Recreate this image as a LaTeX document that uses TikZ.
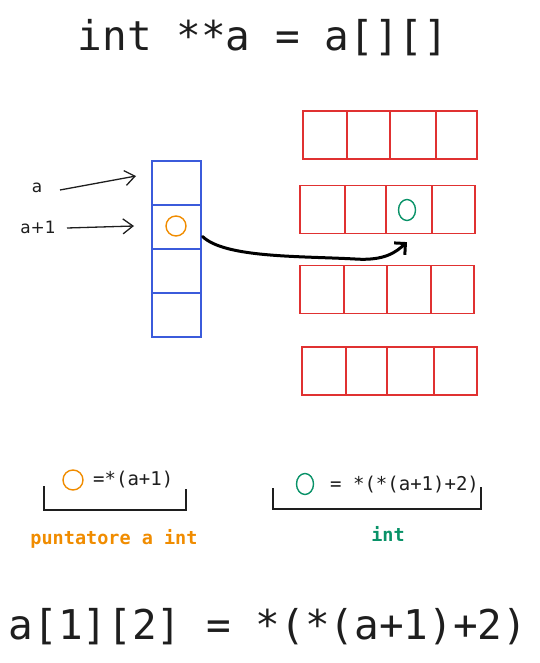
\documentclass[tikz,border=0pt]{standalone}
\usepackage{fontspec}
\setmainfont{DejaVu Sans}
\newfontfamily\mono{DejaVu Sans Mono}
\usetikzlibrary{arrows.meta,calc,shapes.geometric}
\definecolor{ink}{HTML}{1E1E1E}
\definecolor{cblue}{HTML}{3B5BDB}
\definecolor{cred}{HTML}{E03131}
\definecolor{corange}{HTML}{F08C00}
\definecolor{cgreen}{HTML}{099268}
\tikzset{
  bluecell/.style={draw=cblue, line width=1.1pt, minimum width=49pt, minimum height=44pt, inner sep=0pt},
  redcell/.style={draw=cred, line width=1.2pt, minimum height=48pt, inner sep=0pt},
  ocirc/.style={draw=corange, line width=1.4pt, circle, minimum size=20pt, inner sep=0pt},
  gcirc/.style={draw=cgreen, line width=1.4pt, ellipse, minimum width=17pt, minimum height=21pt, inner sep=0pt},
  lbl/.style={text=ink, font=\fontsize{17}{19}\selectfont, inner sep=0pt},
  code/.style={text=ink, font=\mono\fontsize{19}{22}\selectfont, inner sep=0pt},
  big/.style={text=ink, font=\mono\fontsize{41}{46}\selectfont, inner sep=0pt},
  thinarrow/.style={draw=ink, line width=1.3pt, -{Straight Barb[length=10pt,width=15pt]}},
  ptrarrow/.style={draw=black, line width=3pt, line cap=round, -{Straight Barb[length=8pt,width=16pt]}},
  bracketline/.style={draw=ink, line width=1.3pt}
}
\begin{document}
\begin{tikzpicture}[x=1pt,y=-1pt]
\useasboundingbox (0,0) rectangle (540,663);

% title
\node[big] (title) at (263,38) {int **a = a[][]};

% labels and pointer arrows
\node[lbl] (la) at (37,188) {a};
\node[lbl] (la1) at (38,227) {a+1};
\coordinate (sa) at (60,190);
\coordinate (ea) at (136,176);
\coordinate (sa1) at (67,228);
\coordinate (ea1) at (134,226);
\draw[thinarrow] (sa) -- (ea);
\draw[thinarrow] (sa1) -- (ea1);

% blue column
\node[bluecell] (b1) at (176.5,183) {};
\node[bluecell] (b2) at (176.5,227) {};
\node[bluecell] (b3) at (176.5,271) {};
\node[bluecell] (b4) at (176.5,315) {};
\node[ocirc] (oc) at (176,226) {};

% red rows
\node[redcell, minimum width=44pt] (r11) at (325,135) {};
\node[redcell, minimum width=43pt] (r12) at (368.5,135) {};
\node[redcell, minimum width=46pt] (r13) at (413,135) {};
\node[redcell, minimum width=41pt] (r14) at (456.5,135) {};

\node[redcell, minimum width=45pt] (r21) at (322.5,209.5) {};
\node[redcell, minimum width=41pt] (r22) at (365.5,209.5) {};
\node[redcell, minimum width=46pt] (r23) at (409,209.5) {};
\node[redcell, minimum width=43pt] (r24) at (453.5,209.5) {};

\node[redcell, minimum width=44pt] (r31) at (322,289.5) {};
\node[redcell, minimum width=43pt] (r32) at (365.5,289.5) {};
\node[redcell, minimum width=44pt] (r33) at (409,289.5) {};
\node[redcell, minimum width=43pt] (r34) at (452.5,289.5) {};

\node[redcell, minimum width=44pt] (r41) at (324,371) {};
\node[redcell, minimum width=41pt] (r42) at (366.5,371) {};
\node[redcell, minimum width=47pt] (r43) at (410.5,371) {};
\node[redcell, minimum width=43pt] (r44) at (455.5,371) {};

\node[gcirc] (gc) at (407,210) {};

% pointer curve
\draw[ptrarrow] ($(b2.south east)+(1,-13)$) .. controls (225,258) and (300,256) .. (355,259)
  .. controls (385,261) and (396,252) .. ($(r23.south)+(-2,8)$);

% bottom left annotation
\node[ocirc] (oc2) at (73,480) {};
\node[code, anchor=west] (t1) at (93,480) {=*(a+1)};
\draw[bracketline] (44,486) -- (44,510) -- (186,510) -- (186,489);
\node[text=corange, font=\mono\bfseries\fontsize{18.5}{22}\selectfont, inner sep=0pt] (pt) at (114,539) {puntatore a int};

% bottom right annotation
\node[gcirc] (gc2) at (305,484) {};
\node[code, anchor=west] (t2) at (330,485) {= *(*(a+1)+2)};
\draw[bracketline] (273,488) -- (273,509) -- (481,509) -- (481,487);
\node[text=cgreen, font=\mono\bfseries\fontsize{18.5}{22}\selectfont, inner sep=0pt] (it) at (388,534) {int};

% bottom formula
\node[big] (formula) at (268,627) {a[1][2] = *(*(a+1)+2)};
\end{tikzpicture}
\end{document}
